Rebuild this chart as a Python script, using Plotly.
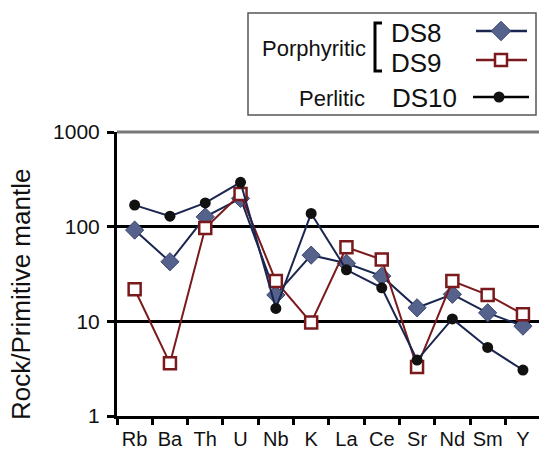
import plotly.graph_objects as go

elements = ["Rb", "Ba", "Th", "U", "Nb", "K", "La", "Ce", "Sr", "Nd", "Sm", "Y"]
ds8 = [92, 42.6, 127, 199, 19, 50, 41, 30, 13.9, 19.3, 12.3, 8.9]
ds9 = [21.8, 3.6, 97, 221, 26.6, 9.7, 60.5, 45, 3.3, 26.6, 19, 11.9]
ds10 = [169, 129, 178, 294, 13.7, 138, 35, 22.6, 3.9, 10.6, 5.3, 3.06]
y_ticks = [1, 10, 100, 1000]

W, H = 539, 450
FONT = "Liberation Sans, Arial, sans-serif"
NAVY = "#1b2650"
DIAM = "#54628c"
RED = "#7a1a1c"

def px(x):
    return x / W

def py(y):
    return 1 - y / H

# plot area in pixels
L, R, T, B = 117, 539, 132, 416
slot = 35.3

fig = go.Figure()
fig.add_trace(go.Scatter(x=elements, y=ds8, mode="lines+markers", name="DS8",
                         line=dict(color=NAVY, width=2),
                         marker=dict(symbol="diamond", size=14, color=DIAM,
                                     line=dict(color="#3b4670", width=1))))
fig.add_trace(go.Scatter(x=elements, y=ds9, mode="lines+markers", name="DS9",
                         line=dict(color=RED, width=2),
                         marker=dict(symbol="square", size=12, color="white",
                                     line=dict(color=RED, width=2.5))))
fig.add_trace(go.Scatter(x=elements, y=ds10, mode="lines+markers", name="DS10",
                         line=dict(color=NAVY, width=2),
                         marker=dict(symbol="circle", size=11, color="#111111")))

# legend sample markers on a separate full-page pixel axis
fig.add_trace(go.Scatter(x=[501], y=[31], xaxis="x2", yaxis="y2", mode="markers",
                         marker=dict(symbol="diamond", size=15, color=DIAM,
                                     line=dict(color="#3b4670", width=1)),
                         showlegend=False, hoverinfo="skip"))
fig.add_trace(go.Scatter(x=[501], y=[60], xaxis="x2", yaxis="y2", mode="markers",
                         marker=dict(symbol="square", size=12, color="white",
                                     line=dict(color=RED, width=2.5)),
                         showlegend=False, hoverinfo="skip"))
fig.add_trace(go.Scatter(x=[499], y=[97], xaxis="x2", yaxis="y2", mode="markers",
                         marker=dict(symbol="circle", size=11, color="#111111"),
                         showlegend=False, hoverinfo="skip"))

shapes = [
    # top gray line at 1000
    dict(type="line", xref="paper", yref="paper", x0=px(L), x1=1, y0=py(T), y1=py(T),
         line=dict(color="#777777", width=3)),
    # legend box
    dict(type="rect", xref="paper", yref="paper", x0=px(248), x1=px(536), y0=py(13), y1=py(115),
         line=dict(color="#555555", width=1.5), fillcolor="white", layer="below"),
    # bracket
    dict(type="path", xref="paper", yref="paper",
         path=f"M {px(382)},{py(23)} L {px(375)},{py(23)} L {px(375)},{py(71)} L {px(382)},{py(71)}",
         line=dict(color="black", width=3)),
    # legend sample lines
    dict(type="line", xref="paper", yref="paper", x0=px(476), x1=px(527), y0=py(31), y1=py(31),
         line=dict(color=NAVY, width=2.5), layer="below"),
    dict(type="line", xref="paper", yref="paper", x0=px(476), x1=px(527), y0=py(60), y1=py(60),
         line=dict(color=RED, width=2.5), layer="below"),
    dict(type="line", xref="paper", yref="paper", x0=px(473), x1=px(529), y0=py(97), y1=py(97),
         line=dict(color="black", width=2.5), layer="below"),
]

annotations = [
    dict(text="Porphyritic", x=px(368), y=py(48), xanchor="right", yanchor="middle",
         font=dict(size=22)),
    dict(text="DS8", x=px(389), y=py(33), xanchor="left", yanchor="middle", font=dict(size=26)),
    dict(text="DS9", x=px(389), y=py(63), xanchor="left", yanchor="middle", font=dict(size=26)),
    dict(text="Perlitic", x=px(367), y=py(99), xanchor="right", yanchor="middle",
         font=dict(size=22)),
    dict(text="DS10", x=px(390), y=py(98), xanchor="left", yanchor="middle", font=dict(size=26)),
    dict(text="Rock/Primitive mantle", x=px(21), y=py(295), xanchor="center", yanchor="middle",
         textangle=-90, font=dict(size=26)),
]
for a in annotations:
    a.update(xref="paper", yref="paper", showarrow=False)
    a["font"].update(family=FONT, color="#111111")

fig.update_layout(
    width=W, height=H,
    margin=dict(l=0, r=0, t=0, b=0, pad=0, autoexpand=False),
    paper_bgcolor="white", plot_bgcolor="rgba(0,0,0,0)",
    showlegend=False,
    font=dict(family=FONT, color="#111111"),
    xaxis=dict(domain=[px(L), 1], type="category", range=[-0.5, -0.5 + (R - L) / slot],
               showline=True, linecolor="black", linewidth=3,
               ticks="outside", tickson="boundaries", ticklen=6, tickwidth=3, tickcolor="black",
               showgrid=False, tickangle=0, automargin=False, ticklabelstandoff=3,
               tickfont=dict(size=20, family=FONT, color="#111111"),
               fixedrange=True, anchor="y"),
    yaxis=dict(domain=[py(B), py(T)], type="log", range=[0, 3],
               tickvals=y_ticks, ticktext=[str(v) for v in y_ticks],
               showline=True, linecolor="black", linewidth=3,
               ticks="outside", ticklen=7, tickwidth=3, tickcolor="black",
               showgrid=True, gridcolor="black", gridwidth=3, automargin=False,
               ticklabelstandoff=3,
               tickfont=dict(size=21, family=FONT, color="#111111"),
               zeroline=False, fixedrange=True, anchor="x"),
    xaxis2=dict(domain=[0, 1], range=[0, W], visible=False, anchor="y2", fixedrange=True),
    yaxis2=dict(domain=[0, 1], range=[H, 0], visible=False, anchor="x2", fixedrange=True),
    shapes=shapes,
    annotations=annotations,
)

fig.write_html("out.html")
